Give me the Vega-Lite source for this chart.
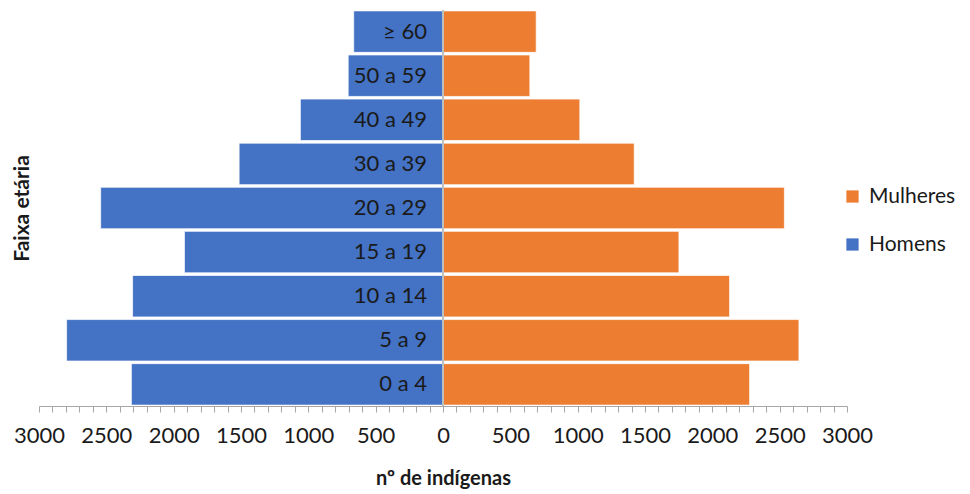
{
  "$schema": "https://vega.github.io/schema/vega-lite/v6.json",
  "autosize": {"type": "none"},
  "padding": {"left": 39, "top": 10, "right": 123, "bottom": 88},
  "width": 808,
  "height": 396,
  "config": {"font": "Lato", "view": {"stroke": null}},
  "data": {
    "values": [
      {"faixa": "≥ 60", "sexo": "Homens", "valor": -663},
      {"faixa": "50 a 59", "sexo": "Homens", "valor": -704},
      {"faixa": "40 a 49", "sexo": "Homens", "valor": -1059},
      {"faixa": "30 a 39", "sexo": "Homens", "valor": -1514},
      {"faixa": "20 a 29", "sexo": "Homens", "valor": -2542},
      {"faixa": "15 a 19", "sexo": "Homens", "valor": -1920},
      {"faixa": "10 a 14", "sexo": "Homens", "valor": -2305},
      {"faixa": "5 a 9", "sexo": "Homens", "valor": -2795},
      {"faixa": "0 a 4", "sexo": "Homens", "valor": -2314},
      {"faixa": "≥ 60", "sexo": "Mulheres", "valor": 692},
      {"faixa": "50 a 59", "sexo": "Mulheres", "valor": 645},
      {"faixa": "40 a 49", "sexo": "Mulheres", "valor": 1016},
      {"faixa": "30 a 39", "sexo": "Mulheres", "valor": 1420},
      {"faixa": "20 a 29", "sexo": "Mulheres", "valor": 2535},
      {"faixa": "15 a 19", "sexo": "Mulheres", "valor": 1752},
      {"faixa": "10 a 14", "sexo": "Mulheres", "valor": 2128},
      {"faixa": "5 a 9", "sexo": "Mulheres", "valor": 2643},
      {"faixa": "0 a 4", "sexo": "Mulheres", "valor": 2277}
    ]
  },
  "encoding": {
    "y": {
      "field": "faixa",
      "type": "nominal",
      "sort": ["≥ 60", "50 a 59", "40 a 49", "30 a 39", "20 a 29", "15 a 19", "10 a 14", "5 a 9", "0 a 4"],
      "scale": {"paddingInner": 0.06, "paddingOuter": 0.02},
      "axis": {
        "title": "Faixa etária",
        "labels": false,
        "ticks": false,
        "domain": false,
        "titleFontSize": 21,
        "titleFontWeight": "bold",
        "titleColor": "#1a1a1a",
        "titleX": -17,
        "titleY": 198,
        "titleBaseline": "middle",
        "titleAlign": "center"
      }
    }
  },
  "layer": [
    {
      "mark": {"type": "bar", "stroke": "#ffffff", "strokeWidth": 1, "strokeOpacity": 0.7},
      "encoding": {
        "x": {
          "field": "valor",
          "type": "quantitative",
          "scale": {"domain": [-3000, 3000], "nice": false, "zero": false},
          "axis": {
            "title": "nº de indígenas",
            "values": [-3000,-2900,-2800,-2700,-2600,-2500,-2400,-2300,-2200,-2100,-2000,-1900,-1800,-1700,-1600,-1500,-1400,-1300,-1200,-1100,-1000,-900,-800,-700,-600,-500,-400,-300,-200,-100,0,100,200,300,400,500,600,700,800,900,1000,1100,1200,1300,1400,1500,1600,1700,1800,1900,2000,2100,2200,2300,2400,2500,2600,2700,2800,2900,3000],
            "tickCount": 200,
            "labelExpr": "datum.value % 500 == 0 ? format(abs(datum.value), 'd') : ''",
            "labelOverlap": false,
            "labelFlush": false,
            "labelFontSize": 22,
            "labelColor": "#1a1a1a",
            "labelPadding": 13,
            "tickSize": 6,
            "tickColor": "#A6A6A6",
            "domainColor": "#A6A6A6",
            "grid": false,
            "titleFontSize": 20,
            "titleFontWeight": "bold",
            "titleColor": "#1a1a1a",
            "titlePadding": 22
          }
        },
        "color": {
          "field": "sexo",
          "type": "nominal",
          "scale": {"domain": ["Mulheres", "Homens"], "range": ["#ED7D31", "#4472C4"]},
          "legend": {
            "title": null,
            "orient": "none",
            "legendX": 803,
            "legendY": 176,
            "symbolType": "square",
            "symbolSize": 150,
            "symbolStrokeWidth": 0,
            "labelFontSize": 21,
            "labelColor": "#1a1a1a",
            "labelOffset": 6,
            "rowPadding": 26
          }
        }
      }
    },
    {
      "mark": {"type": "rule", "color": "#BFBFBF", "strokeWidth": 1},
      "encoding": {"x": {"datum": 0, "type": "quantitative"}, "y": null}
    },
    {
      "transform": [{"filter": "datum.sexo == 'Homens'"}],
      "mark": {"type": "text", "align": "right", "baseline": "middle", "dx": -16, "fontSize": 22, "color": "#1a1a1a"},
      "encoding": {
        "x": {"datum": 0, "type": "quantitative"},
        "text": {"field": "faixa"}
      }
    }
  ]
}
